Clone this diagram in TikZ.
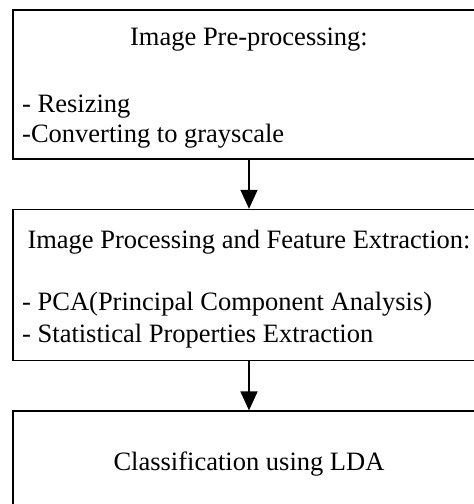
\documentclass[tikz,border=0pt]{standalone}
\usepackage{fontspec}
\setmainfont{Liberation Serif}
\usetikzlibrary{positioning}
\usetikzlibrary{arrows.meta}

\begin{document}
\begin{tikzpicture}[
			x=1pt, y=-1pt,
			stage/.style={draw, line width=1.6pt, minimum width=472pt, inner sep=0pt},
			txt/.style={font=\fontsize{26.5}{30}\selectfont, inner sep=0pt},
			flow/.style={line width=1.6pt, -{Triangle[length=19pt, width=17pt]}}
		]
			\useasboundingbox (0,0) rectangle (474,504);
			\clip (0,0) rectangle (474,504);
			% the three stages
			\node[stage, minimum height=149pt] (pre) at (249,84.5) {};
			\node[stage, minimum height=151pt, below=49pt of pre] (feat) {};
			\node[stage, minimum height=150pt, below=49pt of feat] (lda) {};
			\draw[flow] (pre) -- (feat);
			\draw[flow] (feat) -- (lda);
			% texts
			\node[txt, anchor=base] (t1) at (249,45) {Image Pre-processing:};
			\node[txt, anchor=base west] (t1a) at (22,112) {- Resizing};
			\node[txt, anchor=base west] (t1b) at (22,142) {-Converting to grayscale};
			\node[txt, anchor=base] (t2) at (249,248) {Image Processing and Feature Extraction:};
			\node[txt, anchor=base west] (t2a) at (22,310) {- PCA(Principal Component Analysis)};
			\node[txt, anchor=base west] (t2b) at (22,342) {- Statistical Properties Extraction};
			\node[txt, anchor=base] (t3) at (249,470) {Classification using LDA};
		\end{tikzpicture}
\end{document}
